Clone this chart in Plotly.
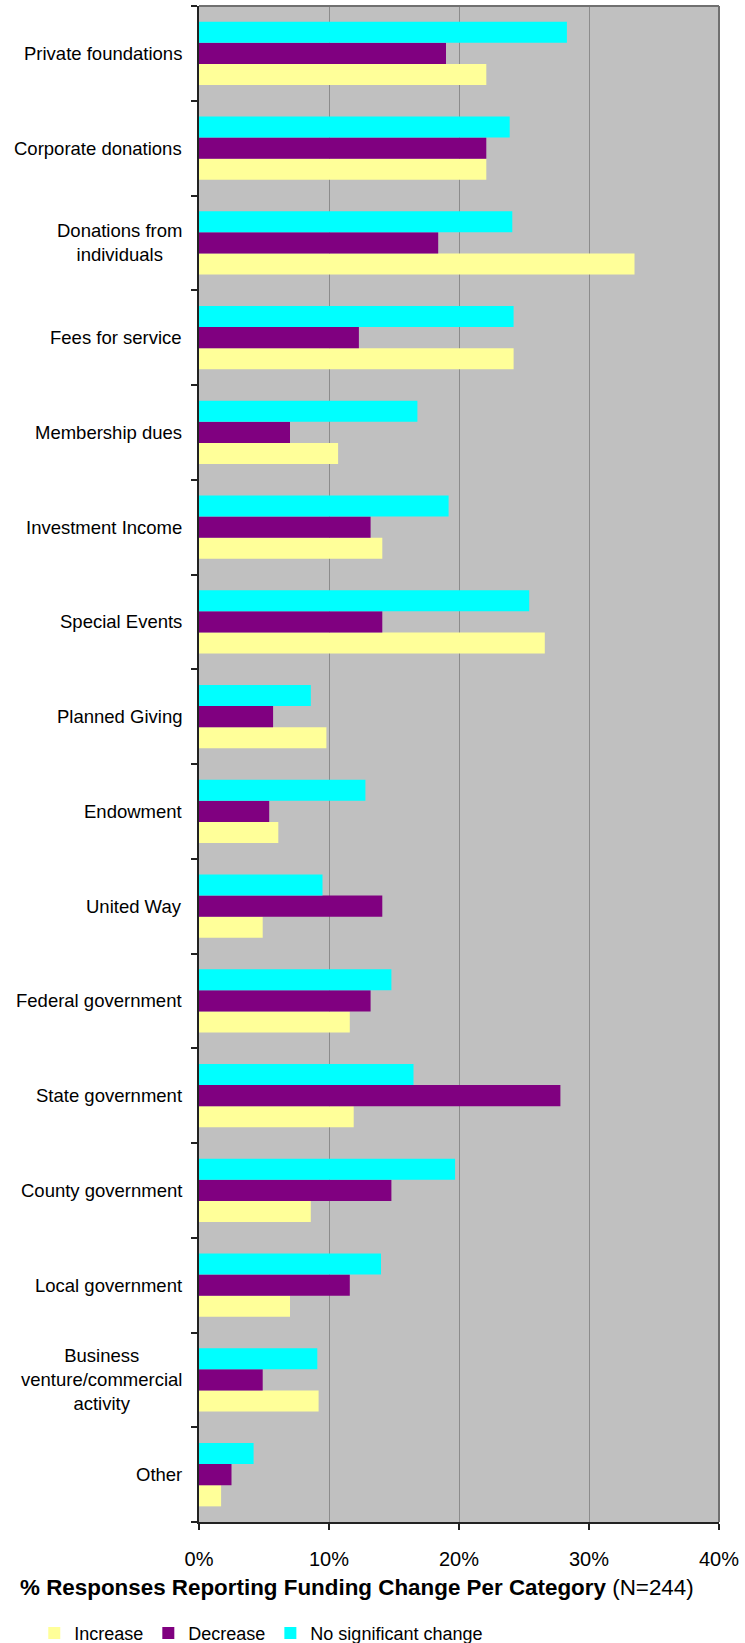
import plotly.graph_objects as go

# Funding categories, top to bottom as listed in the survey
categories = [
    "Private foundations",
    "Corporate donations",
    "Donations from<br>individuals",
    "Fees for service",
    "Membership dues",
    "Investment Income",
    "Special Events",
    "Planned Giving",
    "Endowment",
    "United Way",
    "Federal government",
    "State government",
    "County government",
    "Local government",
    "Business<br>venture/commercial<br>activity",
    "Other",
]

# % of responses (N=244) reporting each kind of change
increase = [22.1, 22.1, 33.5, 24.2, 10.7, 14.1, 26.6, 9.8, 6.1, 4.9, 11.6, 11.9, 8.6, 7.0, 9.2, 1.7]
decrease = [19.0, 22.1, 18.4, 12.3, 7.0, 13.2, 14.1, 5.7, 5.4, 14.1, 13.2, 27.8, 14.8, 11.6, 4.9, 2.5]
no_change = [28.3, 23.9, 24.1, 24.2, 16.8, 19.2, 25.4, 8.6, 12.8, 9.5, 14.8, 16.5, 19.7, 14.0, 9.1, 4.2]

series_names = ["Increase", "Decrease", "No significant change"]
series_colors = ["#FFFF99", "#800080", "#00FFFF"]
x_ticks = [0, 10, 20, 30, 40]
x_tick_labels = [f"{v}%" for v in x_ticks]

FONT = "Liberation Sans, Arial, sans-serif"

fig = go.Figure()
for name, vals, color in zip(series_names, [increase, decrease, no_change], series_colors):
    fig.add_trace(go.Bar(
        y=categories, x=vals, name=name, orientation="h",
        marker=dict(color=color, line=dict(width=0)),
    ))

# category labels, centred line-by-line and right-aligned against the axis
for cat in categories:
    fig.add_annotation(
        x=0, xref="paper", y=cat, yref="y",
        text=cat, showarrow=False, xanchor="right", yanchor="middle",
        align="center", xshift=-15,
        font=dict(family=FONT, size=18.5, color="black"),
    )

# axis caption under the chart
fig.add_annotation(
    x=0.304, xref="paper", y=-0.0435, yref="paper",
    text="<b>% Responses Reporting Funding Change Per Category</b> (N=244)",
    showarrow=False, xanchor="center", yanchor="middle",
    font=dict(family=FONT, size=22.4, color="black"),
)

# top and right frame of the plot area
fig.add_shape(type="line", xref="paper", yref="paper", x0=0, x1=1, y0=1, y1=1,
              line=dict(color="#707070", width=2))
fig.add_shape(type="line", xref="paper", yref="paper", x0=1, x1=1, y0=0, y1=1,
              line=dict(color="#707070", width=2))

fig.update_layout(
    width=745, height=1643,
    margin=dict(l=199, r=26, t=6, b=121),
    paper_bgcolor="white",
    plot_bgcolor="#C0C0C0",
    barmode="group",
    bargap=0.33,
    bargroupgap=0,
    font=dict(family=FONT, size=18, color="black"),
    showlegend=True,
    legend=dict(
        orientation="h",
        xref="container", yref="container",
        x=0.046, y=0.0172, xanchor="left", yanchor="top",
        font=dict(family=FONT, size=18, color="black"),
        itemwidth=30,
        bgcolor="rgba(0,0,0,0)",
        traceorder="normal",
    ),
    xaxis=dict(
        range=[0, 40],
        tickmode="array",
        tickvals=x_ticks,
        ticktext=x_tick_labels,
        showgrid=True, gridcolor="#8c8c8c", gridwidth=1,
        zeroline=False,
        showline=True, linecolor="#222222", linewidth=2,
        ticks="outside", ticklen=6, tickcolor="#222222", tickwidth=1.5,
        tickfont=dict(family=FONT, size=20, color="black"),
        ticklabelstandoff=12,
        fixedrange=True,
    ),
    yaxis=dict(
        type="category",
        categoryorder="array",
        categoryarray=categories[::-1],
        showticklabels=False,
        tickson="boundaries",
        ticks="outside", ticklen=6, tickcolor="#222222", tickwidth=1.5,
        showgrid=False,
        zeroline=False,
        showline=True, linecolor="#222222", linewidth=2,
        fixedrange=True,
    ),
)

fig.write_html("out.html")
